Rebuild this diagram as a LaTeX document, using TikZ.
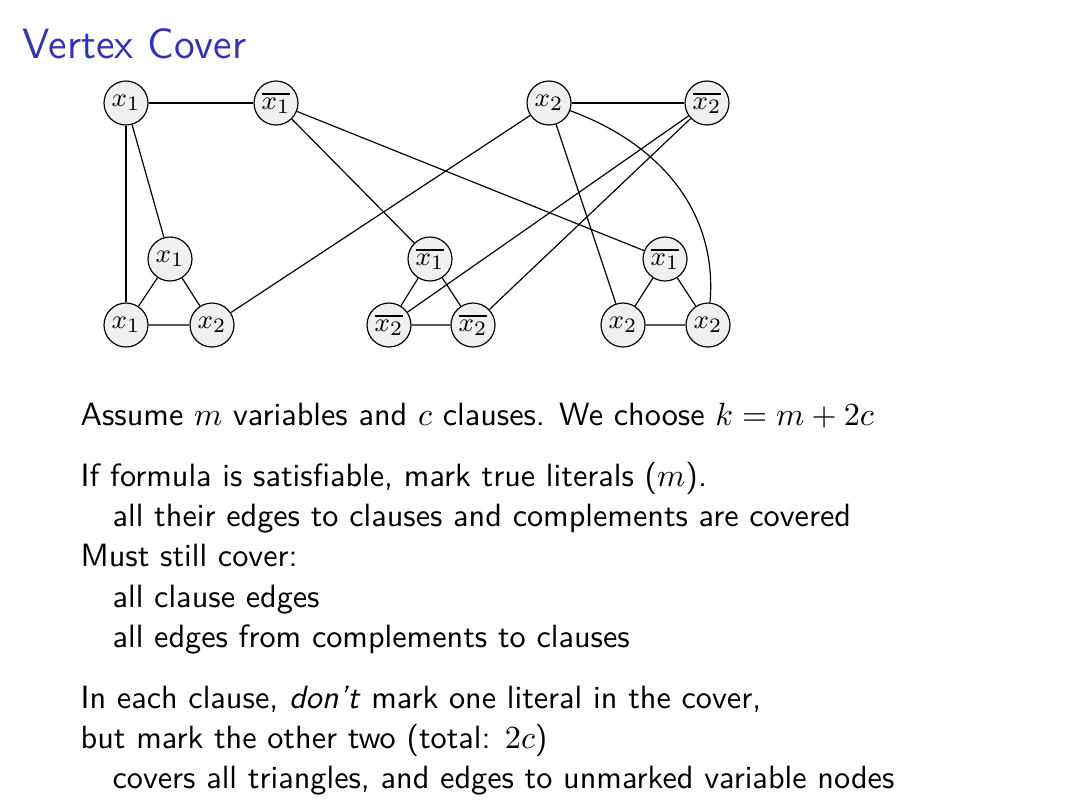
\documentclass[tikz,border=0pt]{standalone}
\begin{document}
\begin{tikzpicture}[x=0.119403mm,y=-0.119403mm,
  lit/.style={circle,draw,fill=black!6,minimum size=5.25mm,inner sep=0pt,font=\fontsize{9.5}{11}\selectfont},
  edge/.style={draw,thin},
  body/.style={anchor=base west,inner sep=0pt,font=\fontsize{10.95}{13.6}\selectfont\sffamily}]
\useasboundingbox (0,0) rectangle (1072,804);
\definecolor{beamerblue}{RGB}{51,51,178}
\node[anchor=base west,inner sep=0pt,text=beamerblue,font=\fontsize{14.4}{18}\selectfont\sffamily] (title) at (22,58) {Vertex Cover};
% variable nodes
\node[lit] (x1) at (126,103) {$x_1$};
\node[lit] (x1b) at (276,103) {$\overline{x_1}$};
\node[lit] (x2) at (549,103) {$x_2$};
\node[lit] (x2b) at (707,103) {$\overline{x_2}$};
% clause 1
\node[lit] (a1) at (170,259) {$x_1$};
\node[lit] (a2) at (126,325) {$x_1$};
\node[lit] (a3) at (212,325) {$x_2$};
% clause 2
\node[lit] (b1) at (430,259) {$\overline{x_1}$};
\node[lit] (b2) at (389,325) {$\overline{x_2}$};
\node[lit] (b3) at (473,325) {$\overline{x_2}$};
% clause 3
\node[lit] (c1) at (665,259) {$\overline{x_1}$};
\node[lit] (c2) at (623,325) {$x_2$};
\node[lit] (c3) at (708,325) {$x_2$};
% edges
\draw[edge] (x1) -- (x1b);
\draw[edge] (x2) -- (x2b);
\draw[edge] (a1) -- (a2) -- (a3) -- (a1);
\draw[edge] (b1) -- (b2) -- (b3) -- (b1);
\draw[edge] (c1) -- (c2) -- (c3) -- (c1);
\draw[edge] (x1) -- (a1);
\draw[edge] (x1) -- (a2);
\draw[edge] (x1b) -- (b1);
\draw[edge] (x1b) -- (c1);
\draw[edge] (x2) -- (a3);
\draw[edge] (x2) -- (c2);
\draw[edge] (x2) to[out=-20,in=85] (c3);
\draw[edge] (x2b) -- (b2);
\draw[edge] (x2b) -- (b3);
% text
\node[body] (t1) at (80,425) {Assume $m$ variables and $c$ clauses. We choose $k = m + 2c$};
\node[body] (t2) at (80,486) {If formula is satisfiable, mark true literals ($m$).};
\node[body] (t3) at (112,526) {all their edges to clauses and complements are covered};
\node[body] (t4) at (80,566) {Must still cover:};
\node[body] (t5) at (112,607) {all clause edges};
\node[body] (t6) at (112,647) {all edges from complements to clauses};
\node[body] (t7) at (80,708) {In each clause, \emph{don't} mark one literal in the cover,};
\node[body] (t8) at (80,748) {but mark the other two (total: $2c$)};
\node[body] (t9) at (112,788) {covers all triangles, and edges to unmarked variable nodes};
\end{tikzpicture}
\end{document}
